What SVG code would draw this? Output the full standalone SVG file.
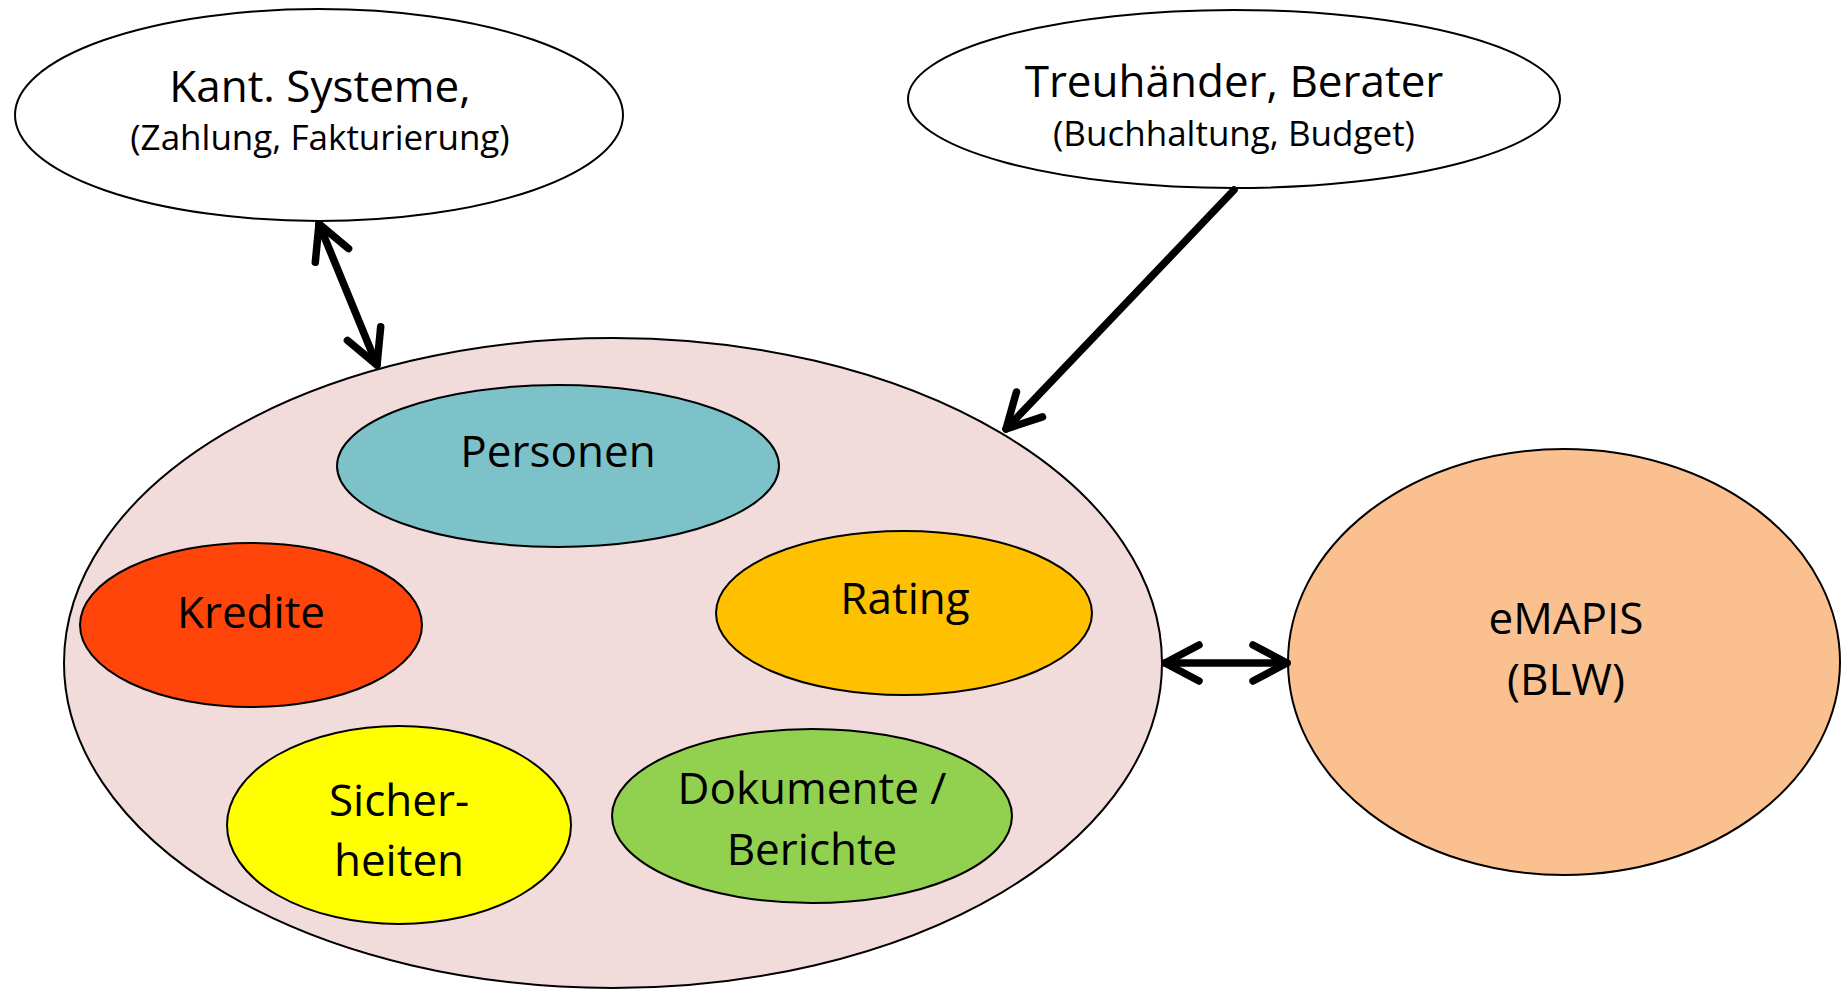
<svg xmlns="http://www.w3.org/2000/svg" width="1841" height="989" viewBox="0 0 1841 989">
<defs>
<style>
.n{stroke:#000;stroke-width:2}
.t{font-family:"Open Sans","Noto Sans",sans-serif;font-size:44px;fill:#000;text-anchor:middle}
.s{font-family:"Open Sans","Noto Sans",sans-serif;font-size:35px;fill:#000;text-anchor:middle}
.c{stroke:#000;stroke-width:7.5;fill:none;stroke-linecap:round}
</style>
<marker id="ah" markerUnits="userSpaceOnUse" viewBox="-40 -25 46 50" refX="0" refY="0" markerWidth="46" markerHeight="50" orient="auto-start-reverse">
<path d="M -34 -18 L 0 0 L -34 18" fill="none" stroke="#000" stroke-width="7.5" stroke-linecap="round" stroke-linejoin="round"/>
</marker>
</defs>
<rect width="1841" height="989" fill="#fff"/>
<g id="kant">
<ellipse class="n" cx="319" cy="115" rx="304" ry="106" fill="#fff"/>
<text class="t" x="320" y="102">Kant. Systeme,</text>
<text class="s" x="320" y="150">(Zahlung, Fakturierung)</text>
</g>
<g id="treuhaender">
<ellipse class="n" cx="1234" cy="99" rx="326" ry="89" fill="#fff"/>
<text class="t" x="1234" y="97">Treuhänder, Berater</text>
<text class="s" x="1234" y="146">(Buchhaltung, Budget)</text>
</g>
<g id="system">
<ellipse class="n" cx="613" cy="663" rx="549" ry="325" fill="#F2DCDB"/>
</g>
<g id="personen">
<ellipse class="n" cx="558" cy="466" rx="221" ry="81" fill="#7CC2C8"/>
<text class="t" x="558" y="467">Personen</text>
</g>
<g id="kredite">
<ellipse class="n" cx="251" cy="625" rx="171" ry="82" fill="#FF450A"/>
<text class="t" x="251" y="628">Kredite</text>
</g>
<g id="rating">
<ellipse class="n" cx="904" cy="613" rx="188" ry="82" fill="#FFC000"/>
<text class="t" x="905" y="614">Rating</text>
</g>
<g id="sicherheiten">
<ellipse class="n" cx="399" cy="825" rx="172" ry="99" fill="#FFFF00"/>
<text class="t" x="399" y="816">Sicher-</text>
<text class="t" x="399" y="876">heiten</text>
</g>
<g id="dokumente">
<ellipse class="n" cx="812" cy="816" rx="200" ry="87" fill="#92D050"/>
<text class="t" x="812" y="804">Dokumente /</text>
<text class="t" x="812" y="865">Berichte</text>
</g>
<g id="emapis">
<ellipse class="n" cx="1564" cy="662" rx="276" ry="213" fill="#FAC090"/>
<text class="t" x="1566" y="634">eMAPIS</text>
<text class="t" x="1566" y="695">(BLW)</text>
</g>
<g id="connectors">
<line class="c" x1="319" y1="224" x2="377" y2="365" marker-start="url(#ah)" marker-end="url(#ah)"/>
<line class="c" x1="1234" y1="190" x2="1006" y2="429" stroke-linecap="butt" marker-end="url(#ah)"/>
<line class="c" x1="1165" y1="663" x2="1287" y2="663" marker-start="url(#ah)" marker-end="url(#ah)"/>
</g>
</svg>
